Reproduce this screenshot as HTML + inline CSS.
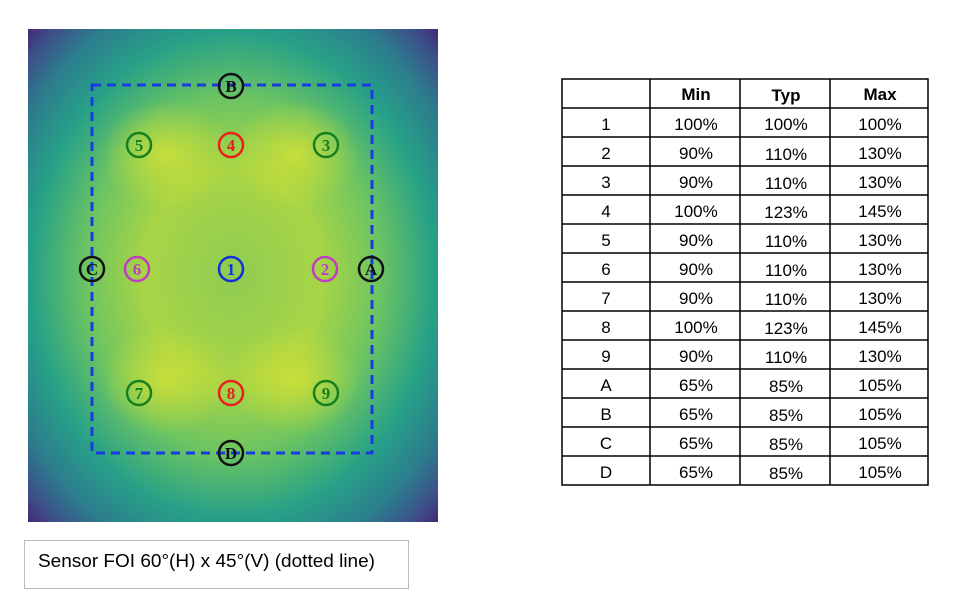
<!DOCTYPE html>
<html><head><meta charset="utf-8"><style>
html,body{margin:0;padding:0;background:#fff;}
svg{display:block;}
</style></head><body>
<svg width="967" height="613" viewBox="0 0 967 613" xmlns="http://www.w3.org/2000/svg" font-family="Liberation Sans, sans-serif">
<defs>
<radialGradient id="g" cx="50%" cy="50%" r="72%">
<stop offset="0" stop-color="#8fcc52"/>
<stop offset="0.3" stop-color="#a8d545"/>
<stop offset="0.5" stop-color="#6cc462"/>
<stop offset="0.68" stop-color="#27a187"/>
<stop offset="0.82" stop-color="#2c7d8d"/>
<stop offset="0.92" stop-color="#3d4f89"/>
<stop offset="1" stop-color="#461c6e"/>
</radialGradient>
<radialGradient id="y1" cx="50%" cy="50%" r="50%">
<stop offset="0" stop-color="#d6e234" stop-opacity="0.8"/>
<stop offset="1" stop-color="#d6e234" stop-opacity="0"/>
</radialGradient>
</defs>
<rect x="28" y="29" width="410" height="493" fill="url(#g)"/>
<ellipse cx="165" cy="155" rx="65" ry="55" fill="url(#y1)"/>
<ellipse cx="295" cy="155" rx="65" ry="55" fill="url(#y1)"/>
<ellipse cx="165" cy="380" rx="65" ry="55" fill="url(#y1)"/>
<ellipse cx="295" cy="380" rx="65" ry="55" fill="url(#y1)"/>
<rect x="92" y="85" width="280" height="368" fill="none" stroke="#1a3be0" stroke-width="3" stroke-dasharray="9,6"/>
<g font-family="Liberation Serif, serif" font-weight="bold" font-size="17" text-anchor="middle" stroke-width="2.5" fill="none">
<g stroke="#17801e"><circle cx="139" cy="145" r="12"/><circle cx="326" cy="145" r="12"/><circle cx="139" cy="393" r="12"/><circle cx="326" cy="393" r="12"/></g>
<g stroke="#e8201e"><circle cx="231" cy="145" r="12"/><circle cx="231" cy="393" r="12"/></g>
<g stroke="#c03cc0"><circle cx="137" cy="269" r="12"/><circle cx="325" cy="269" r="12"/></g>
<circle cx="231" cy="269" r="12" stroke="#1030d8"/>
<g stroke="#111"><circle cx="231" cy="86" r="12"/><circle cx="92" cy="269" r="12"/><circle cx="371" cy="269" r="12"/><circle cx="231" cy="453" r="12"/></g>
<g stroke="none">
<text x="139" y="151" fill="#17801e">5</text><text x="326" y="151" fill="#17801e">3</text>
<text x="139" y="399" fill="#17801e">7</text><text x="326" y="399" fill="#17801e">9</text>
<text x="231" y="151" fill="#e8201e">4</text><text x="231" y="399" fill="#e8201e">8</text>
<text x="137" y="275" fill="#c03cc0">6</text><text x="325" y="275" fill="#c03cc0">2</text>
<text x="231" y="275" fill="#1030d8">1</text>
<text x="231" y="92" fill="#111">B</text><text x="92" y="275" fill="#111">C</text>
<text x="371" y="275" fill="#111">A</text><text x="231" y="459" fill="#111">D</text>
</g>
</g>
<g stroke="#000" stroke-width="1.5" fill="none">
<rect x="562" y="79" width="366" height="406"/>
<line x1="650" y1="79" x2="650" y2="485"/>
<line x1="740" y1="79" x2="740" y2="485"/>
<line x1="830" y1="79" x2="830" y2="485"/>
<line x1="562" y1="108" x2="928" y2="108"/>
<line x1="562" y1="137" x2="928" y2="137"/>
<line x1="562" y1="166" x2="928" y2="166"/>
<line x1="562" y1="195" x2="928" y2="195"/>
<line x1="562" y1="224" x2="928" y2="224"/>
<line x1="562" y1="253" x2="928" y2="253"/>
<line x1="562" y1="282" x2="928" y2="282"/>
<line x1="562" y1="311" x2="928" y2="311"/>
<line x1="562" y1="340" x2="928" y2="340"/>
<line x1="562" y1="369" x2="928" y2="369"/>
<line x1="562" y1="398" x2="928" y2="398"/>
<line x1="562" y1="427" x2="928" y2="427"/>
<line x1="562" y1="456" x2="928" y2="456"/>
</g>
<g font-size="17" text-anchor="middle" fill="#000">
<g font-weight="bold"><text x="696" y="100">Min</text><text x="786" y="101">Typ</text><text x="880" y="100">Max</text></g>
<text x="606" y="130">1</text><text x="696" y="130">100%</text><text x="786" y="130">100%</text><text x="880" y="130">100%</text>
<text x="606" y="159">2</text><text x="696" y="159">90%</text><text x="786" y="160">110%</text><text x="880" y="159">130%</text>
<text x="606" y="188">3</text><text x="696" y="188">90%</text><text x="786" y="189">110%</text><text x="880" y="188">130%</text>
<text x="606" y="217">4</text><text x="696" y="217">100%</text><text x="786" y="218">123%</text><text x="880" y="217">145%</text>
<text x="606" y="246">5</text><text x="696" y="246">90%</text><text x="786" y="247">110%</text><text x="880" y="246">130%</text>
<text x="606" y="275">6</text><text x="696" y="275">90%</text><text x="786" y="276">110%</text><text x="880" y="275">130%</text>
<text x="606" y="304">7</text><text x="696" y="304">90%</text><text x="786" y="305">110%</text><text x="880" y="304">130%</text>
<text x="606" y="333">8</text><text x="696" y="333">100%</text><text x="786" y="334">123%</text><text x="880" y="333">145%</text>
<text x="606" y="362">9</text><text x="696" y="362">90%</text><text x="786" y="363">110%</text><text x="880" y="362">130%</text>
<text x="606" y="391">A</text><text x="696" y="391">65%</text><text x="786" y="392">85%</text><text x="880" y="391">105%</text>
<text x="606" y="420">B</text><text x="696" y="420">65%</text><text x="786" y="421">85%</text><text x="880" y="420">105%</text>
<text x="606" y="449">C</text><text x="696" y="449">65%</text><text x="786" y="450">85%</text><text x="880" y="449">105%</text>
<text x="606" y="478">D</text><text x="696" y="478">65%</text><text x="786" y="479">85%</text><text x="880" y="478">105%</text>
</g>
<rect x="24.5" y="540.5" width="384" height="48" fill="#fff" stroke="#bbb" stroke-width="1"/>
<text x="38" y="567" font-size="18" fill="#000" textLength="337" lengthAdjust="spacingAndGlyphs">Sensor FOI 60°(H) x 45°(V) (dotted line)</text>
</svg>
</body></html>
